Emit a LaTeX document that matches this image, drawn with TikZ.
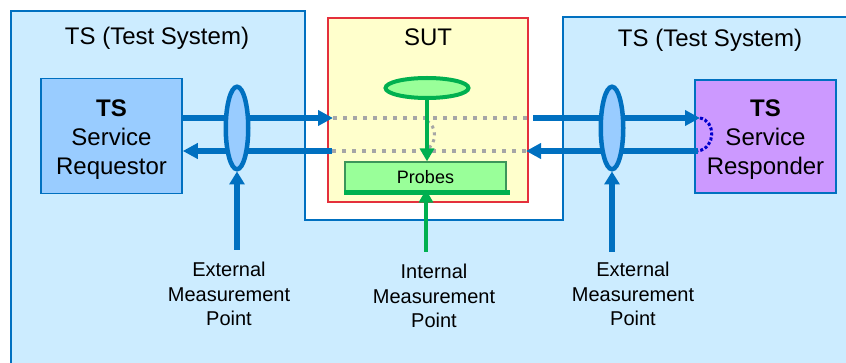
\documentclass[tikz,border=0pt]{standalone}
\usepackage{fontspec}
\setmainfont{Liberation Sans}
\usetikzlibrary{arrows.meta,shapes.geometric}
\definecolor{tsfill}{RGB}{204,236,255}
\definecolor{tsline}{RGB}{0,112,192}
\definecolor{reqfill}{RGB}{153,204,255}
\definecolor{respfill}{RGB}{204,153,255}
\definecolor{sutfill}{RGB}{255,255,204}
\definecolor{sutline}{RGB}{228,48,60}
\definecolor{probegreen}{RGB}{0,176,80}
\definecolor{probefill}{RGB}{153,255,153}
\definecolor{probeline}{RGB}{60,150,90}
\definecolor{pathgrey}{RGB}{166,166,166}
\definecolor{loopblue}{RGB}{0,0,204}
\begin{document}
\begin{tikzpicture}[x=1pt,y=-1pt,
  title/.style={font=\fontsize{24}{29}\selectfont},
  tsbox/.style={draw=tsline, line width=1.5pt, minimum width=141pt, minimum height=115pt,
    inner sep=0pt},
  tstext/.style={align=center, inner sep=0pt, font=\fontsize{24}{29}\selectfont},
  mpoint/.style={ellipse, draw=tsline, fill=reqfill, line width=4.5pt,
    minimum width=22.5pt, minimum height=82.5pt, inner sep=0pt},
  label/.style={align=center, font=\fontsize{20}{24.5}\selectfont},
  bluearrow/.style={draw=tsline, line width=5.5pt, -{Triangle[length=15pt,width=15pt]}},
  bluefeed/.style={draw=tsline, line width=5.5pt, -{Triangle[length=13pt,width=15pt]}},
  greenarrow/.style={draw=probegreen, line width=4.5pt, -{Triangle[length=13pt,width=14pt]}},
  greypath/.style={draw=pathgrey, line width=4pt, dash pattern=on 4pt off 6pt},
]
\useasboundingbox (0,0) rectangle (846,363);

% test system area around the SUT
\fill[tsfill] (11,11) -- (305,11) -- (305,220) -- (563,220) -- (563,17)
  -- (846,17) -- (846,363) -- (11,363) -- cycle;
\draw[tsline, line width=2pt] (11,363) -- (11,11) -- (305,11) -- (305,220)
  -- (563,220) -- (563,17) -- (846,17);

\node[title] (tsleft) at (157,38) {TS (Test System)};
\node[title] (tsright) at (710,40) {TS (Test System)};

% system under test
\node[draw=sutline, fill=sutfill, line width=1.2pt, minimum width=200pt,
  minimum height=184pt, inner sep=0pt] (sut) at (428,110) {};
\node[title] (suttitle) at (428,37) {SUT};

% service endpoints of the test system
\node[tsbox, fill=reqfill] (req) at (111.5,136) {};
\node[tstext] (reqtext) at ([yshift=-3.5pt]req.center) {\textbf{TS}\\Service\\Requestor};
\node[tsbox, fill=respfill, minimum height=113pt] (resp) at (765.5,136.5) {};
\node[tstext] (resptext) at ([yshift=-3.5pt]resp.center) {\textbf{TS}\\Service\\Responder};

% ports on the SUT border
\coordinate (inL) at (333,118);
\coordinate (outL) at (332,151);
\coordinate (outR) at (533,118);
\coordinate (inR) at (526,151);
\coordinate (rsIn) at (700,118);
\coordinate (rsOut) at (698,151);

% message path through the SUT
\draw[greypath] (inL) -- (528,118);
\draw[greypath] (outL) -- (528,151);
\draw[draw=pathgrey, line width=3pt, dash pattern=on 3pt off 4pt]
  (427,121) .. controls (437,126) and (437,144) .. (427,149);

% probes inside the SUT
\node[draw=probeline, fill=probefill, line width=1.2pt, minimum width=161pt,
  minimum height=30pt, inner sep=0pt, font=\fontsize{18}{21}\selectfont]
  (probes) at (425.5,177) {Probes};
\draw[probegreen, line width=5pt] (probes.south west) -- ([xshift=3pt]probes.south east);
\node[ellipse, draw=probegreen, fill=probefill, line width=4pt,
  minimum width=83pt, minimum height=20pt, inner sep=0pt] (sutpt) at (427,88) {};
\draw[greenarrow] (sutpt.south) -- (sutpt.south |- probes.north);

% messages between the test system and the SUT
\draw[bluearrow] (req.east |- inL) -- (inL);
\draw[bluearrow] (outL) -- (req.east |- outL);
\draw[bluearrow] (outR) -- (rsIn);
\draw[bluearrow] (rsOut) -- (inR);
\draw[loopblue, line width=3pt, dotted]
  (rsIn) .. controls (716,121) and (716,148) .. (rsOut);

% external measurement points
\node[mpoint] (mpL) at (237,128) {};
\node[mpoint] (mpR) at (612,128) {};

% labels and the points they refer to
\node[label] (lblL) at (229,294) {External\\Measurement\\Point};
\node[label] (lblM) at (434,296) {Internal\\Measurement\\Point};
\node[label] (lblR) at (633,294) {External\\Measurement\\Point};
\coordinate (ftL) at (237,250);
\coordinate (ftM) at (426,252);
\coordinate (ftR) at (612,252);
\draw[bluefeed] (ftL) -- (mpL.south);
\draw[bluefeed] (ftR) -- (mpR.south);
\draw[greenarrow] (ftM) -- ([yshift=3pt]ftM |- probes.south);
\end{tikzpicture}
\end{document}
